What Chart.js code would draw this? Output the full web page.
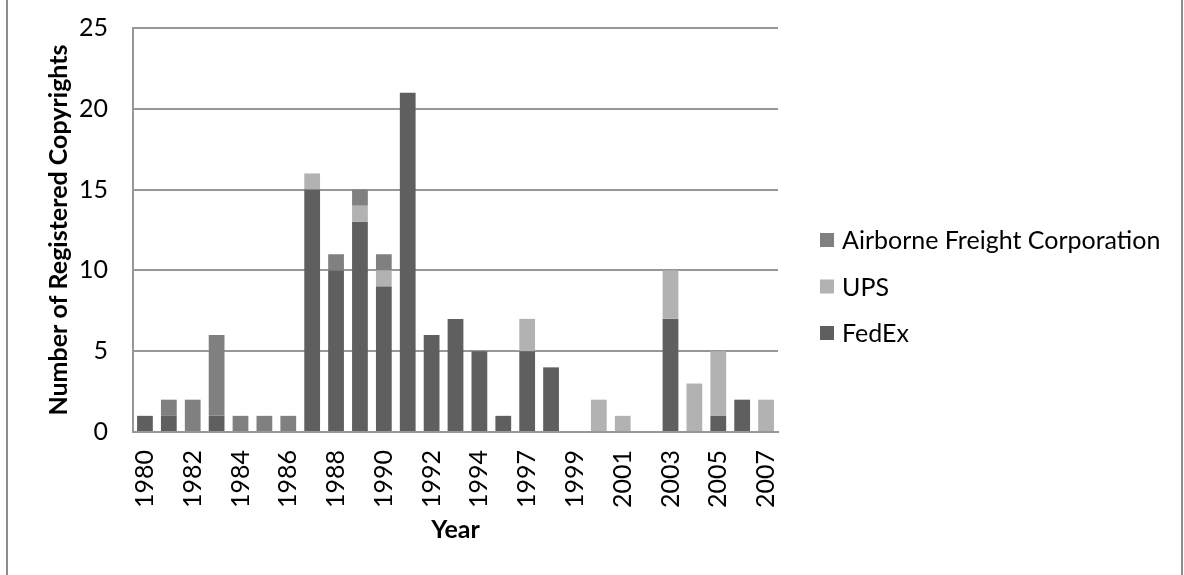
<!DOCTYPE html>
<html>
<head>
<meta charset="utf-8">
<script src="https://cdn.jsdelivr.net/npm/chart.js@4/dist/chart.umd.min.js"></script>
<style>
  html, body { margin: 0; padding: 0; background: #ffffff; }
  canvas { display: block; }
</style>
</head>
<body>
<canvas id="c" width="1184" height="575"></canvas>
<script>
// ---- data ----
const years = ['1980','1981','1982','1983','1984','1985','1986','1987','1988','1989','1990','1991','1992','1993','1994','1995','1997','1998','1999','2000','2001','2002','2003','2004','2005','2006','2007'];
const fedex    = [1,1,0,1,0,0,0,15,10,13,9,21,6,7,5,1,5,4,0,0,0,0,7,0,1,2,0];
const ups      = [0,0,0,0,0,0,0,1,0,1,1,0,0,0,0,0,2,0,0,2,1,0,3,3,4,0,2];
const airborne = [0,1,2,5,1,1,1,0,1,1,1,0,0,0,0,0,0,0,0,0,0,0,0,0,0,0,0];
const yTicks = [0,5,10,15,20,25];
const seriesNames = ['FedEx','UPS','Airborne Freight Corporation'];
const xTitle = 'Year';
const yTitle = 'Number of Registered Copyrights';

const FONT = 'Lato';
const FS = 25;
const TXT = '#000000';
const GRID = '#979797';

const borderPlugin = {
  id: 'outerBorder',
  beforeDraw(chart) {
    const ctx = chart.ctx;
    ctx.save();
    ctx.strokeStyle = '#8c8c8c';
    ctx.lineWidth = 2;
    ctx.beginPath();
    ctx.moveTo(7, 0); ctx.lineTo(7, chart.height);
    ctx.moveTo(1182, 0); ctx.lineTo(1182, chart.height);
    ctx.stroke();
    ctx.restore();
  }
};

const legendPlugin = {
  id: 'customLegend',
  afterDraw(chart) {
    const ctx = chart.ctx;
    const ds = chart.data.datasets.slice().reverse();
    ctx.save();
    ctx.font = FS + 'px ' + FONT;
    ctx.textBaseline = 'middle';
    ctx.textAlign = 'left';
    ds.forEach((d, i) => {
      const cy = 240 + i * 46.5;
      ctx.fillStyle = d.backgroundColor;
      ctx.fillRect(820, cy - 7, 14, 14);
      ctx.fillStyle = TXT;
      ctx.fillText(d.label, 842, cy + 1);
    });
    ctx.restore();
  }
};

new Chart(document.getElementById('c'), {
  type: 'bar',
  data: {
    labels: years,
    datasets: [
      { label: seriesNames[0], data: fedex, backgroundColor: '#5f5f5f' },
      { label: seriesNames[1], data: ups, backgroundColor: '#b2b2b2' },
      { label: seriesNames[2], data: airborne, backgroundColor: '#808080' }
    ]
  },
  options: {
    responsive: false,
    animation: false,
    devicePixelRatio: 1,
    layout: { padding: { left: 0, right: 406, top: 28, bottom: 0 } },
    datasets: { bar: { categoryPercentage: 1.0, barPercentage: 0.66 } },
    plugins: { legend: { display: false }, tooltip: { enabled: false } },
    scales: {
      x: {
        stacked: true,
        grid: { display: false, drawTicks: false },
        border: { display: true, color: GRID, width: 2 },
        ticks: {
          autoSkip: false, minRotation: 90, maxRotation: 90, padding: 18,
          color: TXT, font: { family: FONT, size: FS },
          callback: function(v, i) { return i % 2 === 0 ? this.getLabelForValue(v) : ''; }
        },
        title: { display: true, text: xTitle, color: TXT, font: { family: FONT, size: FS, weight: 'bold' }, padding: { top: 0, bottom: 30 } },
        afterFit(scale) { scale.height = 575 - 432; scale.paddingLeft = 0; scale.paddingRight = 0; }
      },
      y: {
        stacked: true,
        min: 0, max: 25,
        afterBuildTicks(scale) { scale.ticks = yTicks.map(v => ({ value: v })); },
        grid: { color: GRID, lineWidth: 2, drawTicks: false },
        border: { display: true, color: GRID, width: 2 },
        ticks: { padding: 25, color: TXT, font: { family: FONT, size: FS } },
        title: { display: true, text: yTitle, color: TXT, font: { family: FONT, size: FS, weight: 'bold' }, padding: { top: 44, bottom: 0 } },
        afterFit(scale) { scale.width = 133; scale.paddingTop = 0; scale.paddingBottom = 0; }
      }
    }
  },
  plugins: [borderPlugin, legendPlugin]
});
</script>
</body>
</html>
